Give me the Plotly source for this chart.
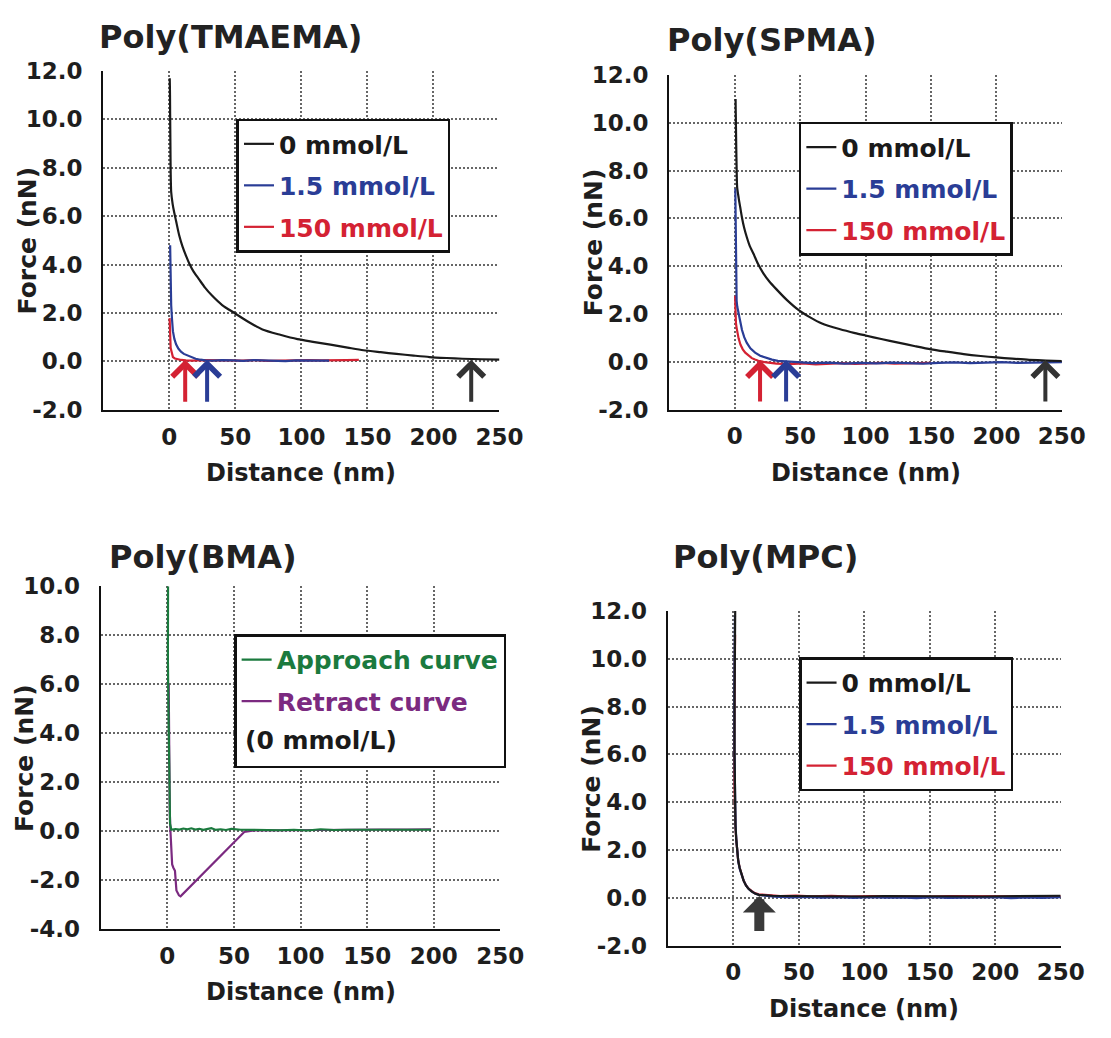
import plotly.graph_objects as go

W, H = 1111, 1038
FONT = "DejaVu Sans"

BLACK = "#1a1a1a"
BLUE = "#2a3d96"
RED = "#d42233"
GREEN = "#1b7a3e"
PURPLE = "#7b2a80"
GRID = "#666666"

# ---------------- Poly(TMAEMA) ----------------
TMAEMA_0_X = [0.3, 0.4, 0.5, 0.6, 0.8, 1.0, 1.4, 2.5, 3.7, 5.1, 7.5, 10, 12.5, 15, 18.5, 22.4,
              27, 32.3, 40, 49.6, 60, 70.5, 84, 97, 110, 122, 135, 147, 160, 172, 185, 197,
              210, 222, 236, 250]
TMAEMA_0_Y = [11.7, 11.4, 11.0, 10.2, 9.0, 7.8, 7.0, 6.5, 6.15, 5.8, 5.2, 4.74, 4.38, 4.06, 3.7,
              3.4, 3.05, 2.72, 2.33, 1.99, 1.63, 1.32, 1.1, 0.92, 0.8, 0.69, 0.57, 0.46, 0.38,
              0.31, 0.24, 0.18, 0.14, 0.11, 0.09, 0.07]
TMAEMA_15_X = [0.6, 0.7, 0.8, 0.9, 1.0, 1.1, 1.2, 1.4, 2.0, 2.7, 3.8, 5.1, 6.8, 8.8, 11, 13.8,
               16.5, 19.9, 23.5, 27.3, 33, 40, 48, 56, 64, 72, 80, 88, 96, 104, 112, 121]
TMAEMA_15_Y = [4.8, 4.3, 3.6, 3.3, 2.9, 2.6, 2.4, 2.32, 1.75, 1.25, 0.93, 0.71, 0.53, 0.4, 0.31,
               0.24, 0.17, 0.11, 0.07, 0.04, 0.03, 0.05, 0.04, 0.02, 0.05, 0.03, 0.04, 0.01, 0.04,
               0.03, 0.05, 0.03]
TMAEMA_150_X = [0.2, 0.3, 0.4, 0.5, 0.7, 1.0, 1.5, 2.0, 2.7, 4.2, 6.4, 9, 12.5, 18, 25, 35, 45,
                55, 65, 75, 85, 95, 105, 115, 125, 134, 143.5]
TMAEMA_150_Y = [1.79, 1.6, 1.3, 1.0, 0.75, 0.55, 0.44, 0.3, 0.18, 0.12, 0.08, 0.06, 0.04, 0.03,
                0.05, 0.03, 0.04, 0.03, 0.05, 0.02, 0.04, 0.03, 0.05, 0.04, 0.06, 0.05, 0.06]
TMAEMA_ONSET_X = [12, 28.6, 228.6]          # 150, 1.5, 0 mmol/L

# ---------------- Poly(SPMA) ----------------
SPMA_0_X = [0.7, 0.8, 0.9, 1.0, 1.2, 1.5, 1.9, 3.1, 4.3, 5.6, 7.3, 9.3, 11.5, 14.3, 17.8, 21.8,
            26.5, 31.8, 40, 49.2, 57, 66.7, 80, 92, 100, 112, 125, 138, 150, 162, 175, 188, 200,
            212, 225, 238, 250]
SPMA_0_Y = [11.0, 10.5, 10.2, 9.8, 9.0, 8.1, 7.3, 6.84, 6.45, 6.03, 5.6, 5.21, 4.85, 4.53, 4.1,
            3.71, 3.36, 3.04, 2.58, 2.15, 1.88, 1.6, 1.37, 1.2, 1.1, 0.95, 0.8, 0.65, 0.52,
            0.42, 0.32, 0.24, 0.18, 0.13, 0.08, 0.05, 0.03]
SPMA_15_X = [0.5, 0.6, 0.7, 0.8, 0.9, 1.0, 1.2, 1.5, 2.0, 3.1, 4.2, 5.6, 7.3, 9.3, 12, 15.6, 19.5,
             24.3, 28.5, 33, 40.5, 50, 60, 72, 84, 96, 108, 120, 132, 144, 156, 168, 180, 192,
             204, 216, 228, 240, 250]
SPMA_15_Y = [7.25, 6.6, 5.5, 4.4, 3.6, 3.1, 2.76, 2.55, 2.3, 2.0, 1.62, 1.33, 1.03, 0.79, 0.56,
             0.38, 0.25, 0.15, 0.09, 0.04, 0.02, -0.03, -0.06, -0.04, -0.08, -0.05, -0.07, -0.04,
             -0.06, -0.08, -0.05, -0.03, -0.06, -0.04, -0.02, -0.05, -0.03, -0.01, -0.02]
SPMA_150_X = [0.3, 0.4, 0.6, 0.8, 1.0, 1.4, 1.9, 3.0, 4.4, 6.2, 8.1, 10.5, 13.1, 15.5, 18.1, 24.3,
              32, 42, 52, 62, 72, 82, 92, 102, 112, 122, 135, 150]
SPMA_150_Y = [2.76, 2.4, 2.0, 1.75, 1.6, 1.45, 1.27, 0.98, 0.72, 0.52, 0.38, 0.25, 0.15, 0.09,
              0.04, -0.03, -0.08, -0.1, -0.07, -0.11, -0.08, -0.06, -0.09, -0.07, -0.05, -0.08,
              -0.06, -0.05]
SPMA_ONSET_X = [19.4, 39.3, 237.4]          # 150, 1.5, 0 mmol/L

# ---------------- Poly(BMA) ----------------
BMA_APPROACH_X = [0.5, 0.3, 0.2, 0.4, 0.8, 1.2, 1.6, 2.0, 3, 6, 9, 12, 15, 18, 21, 24, 27, 30,
                  33, 36, 40, 44, 48, 55, 65, 75, 85, 95, 105, 115, 125, 135, 145, 155, 165, 175,
                  185, 198]
BMA_APPROACH_Y = [10.0, 9.0, 8.5, 7.0, 5.0, 3.0, 1.5, 0.3, 0.05, 0.08, 0.06, 0.1, 0.07, 0.11,
                  0.06, 0.09, 0.05, 0.08, 0.12, 0.05, 0.07, 0.04, 0.09, 0.05, 0.04, 0.06, 0.03,
                  0.05, 0.02, 0.07, 0.04, 0.05, 0.04, 0.06, 0.05, 0.05, 0.06, 0.05]
BMA_RETRACT_X = [1.0, 1.3, 1.8, 2.3, 3.0, 3.6, 4.5, 5.7, 6.8, 8.7, 9.9, 57.7, 65, 80, 100, 120,
                 140, 160, 180, 198]
BMA_RETRACT_Y = [6.0, 3.0, 0.8, 0.0, -0.8, -1.37, -1.5, -1.63, -2.43, -2.63, -2.67, -0.04, 0.02,
                 0.03, 0.04, 0.03, 0.05, 0.06, 0.06, 0.07]

# ---------------- Poly(MPC) ----------------
MPC_0_X = [1.5, 1.2, 1.0, 1.0, 1.1, 1.3, 1.7, 2.3, 2.9, 3.8, 4.9, 6.3, 7.9, 9.7, 11.7, 14, 16.7,
           19.5, 22.9, 30, 40, 55, 70, 85, 100, 115, 130, 145, 160, 175, 190, 205, 220, 235, 250]
MPC_0_Y = [12.07, 10.5, 8.47, 6.0, 4.39, 3.6, 3.03, 2.45, 1.94, 1.55, 1.26, 0.97, 0.72, 0.52,
           0.38, 0.27, 0.18, 0.13, 0.11, 0.09, 0.08, 0.07, 0.08, 0.07, 0.06, 0.08, 0.07, 0.06,
           0.08, 0.07, 0.06, 0.07, 0.08, 0.06, 0.09]
MPC_15_X = [1.3, 1.0, 0.8, 0.9, 1.1, 1.4, 1.8, 2.4, 3.0, 3.9, 5.0, 6.5, 8.1, 10, 12, 14.5, 17, 20,
            24, 32, 44, 56, 68, 80, 92, 104, 116, 128, 140, 152, 164, 176, 188, 200, 212, 224,
            236, 250]
MPC_15_Y = [11.8, 10.2, 8.6, 6.2, 4.5, 3.6, 3.0, 2.4, 1.9, 1.5, 1.2, 0.93, 0.7, 0.5, 0.36, 0.25,
            0.17, 0.12, 0.09, 0.05, 0.02, 0.04, 0.01, 0.03, 0.0, 0.03, 0.01, 0.02, -0.01, 0.03,
            0.0, 0.02, 0.01, 0.03, -0.01, 0.02, 0.0, 0.03]
MPC_150_X = [1.4, 1.1, 0.9, 0.8, 0.9, 1.2, 1.6, 2.2, 2.8, 3.7, 4.8, 6.2, 7.8, 9.6, 11.5, 14, 16.5,
             19.5, 23, 28, 36, 48, 60, 75, 90, 105, 120, 135, 150, 165, 180, 195, 210, 225, 240,
             250]
MPC_150_Y = [11.0, 9.5, 7.5, 6.4, 4.8, 3.7, 3.1, 2.5, 2.0, 1.6, 1.28, 0.98, 0.74, 0.54, 0.4,
             0.29, 0.2, 0.15, 0.14, 0.12, 0.08, 0.1, 0.07, 0.09, 0.06, 0.08, 0.07, 0.09, 0.06,
             0.08, 0.07, 0.06, 0.08, 0.07, 0.06, 0.07]
MPC_ONSET_X = [19.9]

# ---------------- axis ticks ----------------
X_TICKS = [0, 50, 100, 150, 200, 250]
X_RANGE = [-50, 250]
Y_TICKS_A = [-2, 0, 2, 4, 6, 8, 10, 12]
Y_TICKS_B = [-4, -2, 0, 2, 4, 6, 8, 10]

CONC_LABELS = ["0 mmol/L", "1.5 mmol/L", "150 mmol/L"]

# Panel frames in pixels: (left, right, top, bottom)
PANELS = {
    1: dict(box=(105.6, 510.5, 59.5, 407.0), yt=Y_TICKS_A, title="Poly(TMAEMA)", tx=236, ty=25),
    2: dict(box=(684.0, 1085.3, 63.7, 406.7), yt=Y_TICKS_A, title="Poly(SPMA)", tx=789, ty=28),
    3: dict(box=(103.0, 511.4, 588.0, 939.4), yt=Y_TICKS_B, title="Poly(BMA)", tx=207, ty=558),
    4: dict(box=(682.5, 1084.1, 613.3, 956.7), yt=Y_TICKS_A, title="Poly(MPC)", tx=782, ty=558),
}

LEGEND_POS = {1: (241.7, 108.3), 2: (816.5, 111.7), 3: (239.3, 637.3), 4: (816.7, 661.0)}


def px(xp):
    return xp / W


def py(yp):
    return 1 - yp / H


def colored(text, color):
    return f"<span style='color:{color}'>{text}</span>"


fig = go.Figure()


def add_curve(n, xs, ys, color, name, rank, smooth=False):
    suffix = "" if n == 1 else str(n)
    line = dict(color=color, width=2.2)
    if smooth:
        line.update(shape="spline", smoothing=0.7)
    fig.add_trace(go.Scatter(
        x=xs, y=ys, mode="lines", line=line,
        name=colored(name, color), legendrank=rank, legendgroup=f"g{n}_{rank}",
        xaxis="x" + suffix, yaxis="y" + suffix,
        legend="legend" + suffix, hoverinfo="skip",
    ))


# drawing order: red, blue, black on top; legend order black, blue, red
add_curve(1, TMAEMA_150_X, TMAEMA_150_Y, RED, CONC_LABELS[2], 3)
add_curve(1, TMAEMA_15_X, TMAEMA_15_Y, BLUE, CONC_LABELS[1], 2)
add_curve(1, TMAEMA_0_X, TMAEMA_0_Y, BLACK, CONC_LABELS[0], 1, smooth=True)

add_curve(2, SPMA_150_X, SPMA_150_Y, RED, CONC_LABELS[2], 3)
add_curve(2, SPMA_15_X, SPMA_15_Y, BLUE, CONC_LABELS[1], 2)
add_curve(2, SPMA_0_X, SPMA_0_Y, BLACK, CONC_LABELS[0], 1, smooth=True)

add_curve(3, BMA_RETRACT_X, BMA_RETRACT_Y, PURPLE, "Retract curve", 2)
add_curve(3, BMA_APPROACH_X, BMA_APPROACH_Y, GREEN, "Approach curve", 1)
# empty row in the BMA legend holding the "(0 mmol/L)" note
fig.add_trace(go.Scatter(x=[None], y=[None], mode="lines", line=dict(color="rgba(0,0,0,0)"),
                         name=" ", legendrank=3, legendgroup="g3_3",
                         xaxis="x3", yaxis="y3", legend="legend3", hoverinfo="skip"))

add_curve(4, MPC_150_X, MPC_150_Y, RED, CONC_LABELS[2], 3)
add_curve(4, MPC_15_X, MPC_15_Y, BLUE, CONC_LABELS[1], 2)
add_curve(4, MPC_0_X, MPC_0_Y, BLACK, CONC_LABELS[0], 1)

tick_font = dict(family=FONT, size=23, color="#1e1e1e", weight="bold")
layout = dict(
    width=W, height=H, autosize=False,
    margin=dict(l=0, r=0, t=0, b=0),
    paper_bgcolor="white", plot_bgcolor="white",
    showlegend=True,
)

annotations = []
for n, spec in PANELS.items():
    l, r, t, b = spec["box"]
    suffix = "" if n == 1 else str(n)
    yt = spec["yt"]
    layout["xaxis" + suffix] = dict(
        domain=[px(l), px(r)], range=X_RANGE, anchor="y" + suffix,
        tickvals=X_TICKS, ticktext=[str(v) for v in X_TICKS],
        showline=True, linecolor="#111", linewidth=2.2,
        showgrid=True, gridcolor=GRID, gridwidth=2, griddash="2px,2px",
        zeroline=False, ticks="", ticklabelstandoff=5, tickfont=tick_font,
    )
    layout["yaxis" + suffix] = dict(
        domain=[py(b), py(t)], range=[yt[0], yt[-1]], anchor="x" + suffix,
        tickvals=yt, ticktext=[f"{v:.1f}" for v in yt],
        showline=True, linecolor="#111", linewidth=2.2,
        showgrid=True, gridcolor=GRID, gridwidth=2, griddash="2px,2px",
        zeroline=False, ticks="", ticklabelstandoff=14, tickfont=tick_font,
    )
    lx, ly = LEGEND_POS[n]
    layout["legend" + suffix] = dict(
        x=px(lx), y=py(ly), xanchor="left", yanchor="top",
        bgcolor="white", bordercolor="#111", borderwidth=2.5,
        font=dict(family=FONT, size=25, color=BLACK, weight="bold"),
        tracegroupgap=6, itemwidth=30,
    )
    # panel title
    annotations.append(dict(
        text=spec["title"], xref="paper", yref="paper", x=px(spec["tx"]), y=py(spec["ty"]),
        xanchor="center", yanchor="middle", showarrow=False,
        font=dict(family=FONT, size=32, color="#222", weight="bold"),
    ))
    # axis titles
    annotations.append(dict(
        text="Distance (nm)", xref="paper", yref="paper", x=px((l + r) / 2), y=py(b + 65),
        xanchor="center", yanchor="middle", showarrow=False,
        font=dict(family=FONT, size=24, color="#1e1e1e", weight="bold"),
    ))
    annotations.append(dict(
        text="Force (nN)", xref="paper", yref="paper", x=px(l - 78), y=py((t + b) / 2),
        xanchor="center", yanchor="middle", showarrow=False, textangle=-90,
        font=dict(family=FONT, size=25, color="#1e1e1e", weight="bold"),
    ))

# "(0 mmol/L)" line inside the BMA legend box
annotations.append(dict(
    text="(0 mmol/L)", xref="paper", yref="paper", x=px(248.6), y=py(746.7),
    xanchor="left", yanchor="middle", showarrow=False,
    font=dict(family=FONT, size=25, color=BLACK, weight="bold"),
))


def onset_arrow(n, x, color, tail=-1.73, tip=0.07, width=4, head=4, size=1.25):
    suffix = "" if n == 1 else str(n)
    return dict(
        x=x, y=tip, ax=x, ay=tail, xref="x" + suffix, yref="y" + suffix,
        axref="x" + suffix, ayref="y" + suffix, text="", showarrow=True,
        arrowhead=head, arrowsize=size, arrowwidth=width, arrowcolor=color, standoff=0,
    )


arrow_colors = [RED, BLUE, "#333333"]
for xv, c in zip(TMAEMA_ONSET_X, arrow_colors):
    annotations.append(onset_arrow(1, xv, c))
for xv, c in zip(SPMA_ONSET_X, arrow_colors):
    annotations.append(onset_arrow(2, xv, c))
for xv in MPC_ONSET_X:
    annotations.append(onset_arrow(4, xv, "#3a3a3a", tail=-1.45, tip=0.08, width=10, head=1,
                                   size=0.55))

layout["annotations"] = annotations
fig.update_layout(**layout)

fig.write_html("out.html")
